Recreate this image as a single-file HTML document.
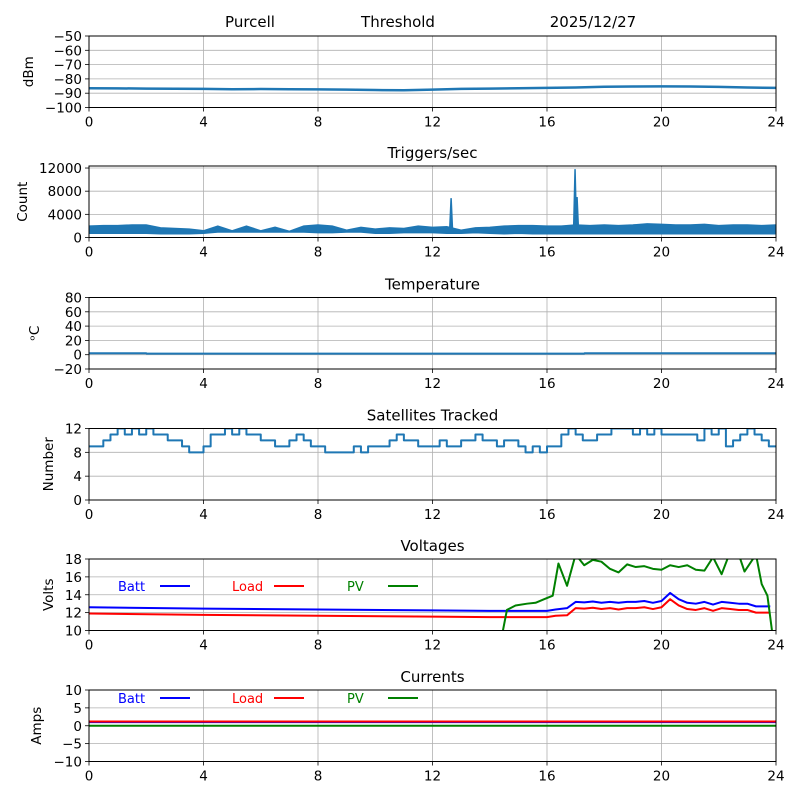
<!DOCTYPE html>
<html><head><meta charset="utf-8"><style>
body{margin:0;background:#fff}
svg{display:block;font-family:"DejaVu Sans","Liberation Sans",sans-serif}
</style></head><body>
<svg id="c" width="800" height="800" viewBox="0 0 800 800">
<text x="250" y="27" font-size="15" text-anchor="middle">Purcell</text>
<text x="398" y="27" font-size="15" text-anchor="middle">Threshold</text>
<text x="593" y="27" font-size="15" text-anchor="middle">2025/12/27</text>
</svg>
<script>
const xTicks=[0,4,8,12,16,20,24];
const sigHours=[0,1,2,3,4,5,6,7,8,9,10,11,12,13,14,15,16,17,18,19,20,21,22,23,24];
const sigVals=[-86.5,-86.6,-86.8,-86.9,-87,-87.2,-87.1,-87.2,-87.3,-87.5,-87.8,-87.9,-87.5,-87,-86.8,-86.5,-86.3,-86,-85.5,-85.3,-85.2,-85.3,-85.6,-86,-86.3];
const trigLow=[700,700,700,700,700,600,600,600,700,900,900,900,900,900,900,900,800,800,900,900,700,700,800,800,800,700,700,800,700,600,700,600,600,600,600,600,600,600,600,600,600,600,600,600,600,600,600,600,600];
const trigHigh=[2000,2100,2100,2200,2200,1700,1600,1500,1200,2000,1200,2000,1200,1800,1100,2000,2200,2000,1300,1800,1500,1700,1600,2000,1800,1900,1300,1700,1800,2000,2100,2100,2000,2000,2200,2100,2200,2100,2200,2400,2300,2200,2200,2300,2100,2200,2200,2100,2200];
const spikeHours=[12.65,16.98,17.05];
const spikeVals=[6800,11800,7000];
const tempHours=[0,2,2.01,17.3,17.31,24];
const tempVals=[2,2,1.5,1.5,2,2];
const satVals=[9,9,10,11,12,11,12,11,12,11,11,10,10,9,8,8,9,11,11,12,11,12,11,11,10,10,9,9,10,11,10,9,9,8,8,8,8,9,8,9,9,9,10,11,10,10,9,9,9,10,9,9,10,10,11,10,10,9,10,10,9,8,9,8,9,9,11,12,11,10,10,11,11,12,12,12,11,12,11,12,11,11,11,11,11,10,12,11,12,9,10,11,12,11,10,9,9];
const battVHours=[0,4,8,12,14,16,16.3,16.7,17,17.3,17.6,17.9,18.2,18.5,18.8,19.1,19.4,19.7,20,20.3,20.6,20.9,21.2,21.5,21.8,22.1,22.4,22.7,23,23.3,23.8];
const battV=[12.6,12.45,12.35,12.25,12.2,12.2,12.35,12.5,13.2,13.15,13.25,13.1,13.2,13.1,13.2,13.2,13.3,13.1,13.3,14.2,13.5,13.1,13.0,13.2,12.9,13.2,13.1,13.0,13.0,12.7,12.7];
const loadV=[11.9,11.75,11.65,11.55,11.5,11.5,11.65,11.7,12.5,12.45,12.55,12.4,12.5,12.35,12.5,12.5,12.6,12.4,12.6,13.5,12.8,12.4,12.3,12.5,12.2,12.5,12.4,12.3,12.3,12.0,12.0];
const pvHours=[14.4,14.6,14.9,15.3,15.6,15.9,16.2,16.4,16.7,17.0,17.3,17.6,17.9,18.2,18.5,18.8,19.1,19.4,19.7,20.0,20.3,20.6,20.9,21.2,21.5,21.8,22.1,22.4,22.7,22.9,23.3,23.5,23.7,23.9];
const pvV=[9,12.3,12.8,13.0,13.1,13.5,13.9,17.5,15,18.5,17.3,17.9,17.7,16.9,16.5,17.4,17.1,17.2,16.9,16.8,17.3,17.1,17.3,16.8,16.7,18.2,16.3,18.8,18.5,16.6,18.5,15.2,13.9,9];
const curHours=[0,24];
const battI=[1.0,1.0];
const loadI=[1.2,1.2];
const pvI=[0,0];

const NS="http://www.w3.org/2000/svg",svg=document.getElementById('c');
const X0=89,X1=776;
function xs(h){return X0+(h/24)*(X1-X0);}
function el(t,a,p){const e=document.createElementNS(NS,t);for(const k in a)e.setAttribute(k,a[k]);(p||svg).appendChild(e);return e;}
function panel(id,top,ymin,ymax,yTicks,yLabel,title,ylx){
  const H=71.5,bot=top+H;
  const ys=v=>bot-(v-ymin)/(ymax-ymin)*H;
  const g=el('g',{});
  
  
  xTicks.forEach(t=>{const l=el('line',{x1:xs(t),x2:xs(t),y1:top,y2:bot,stroke:'#b0b0b0','stroke-width':0.8},g);
    
    el('line',{x1:xs(t),x2:xs(t),y1:bot,y2:bot+4,stroke:'#000','stroke-width':0.8},g);
    const tx=el('text',{x:xs(t),y:bot+19,'font-size':13.5,'text-anchor':'middle'},g);tx.textContent=t;
    });
  yTicks.forEach(t=>{const y=ys(t);const l=el('line',{x1:X0,x2:X1,y1:y,y2:y,stroke:'#b0b0b0','stroke-width':0.8},g);
    
    el('line',{x1:X0-4,x2:X0,y1:y,y2:y,stroke:'#000','stroke-width':0.8},g);
    const tx=el('text',{x:X0-7,y:y+5,'font-size':13.5,'text-anchor':'end'},g);tx.textContent=String(t).replace('-','\u2212');
    });
  const yl=el('text',{transform:`translate(${ylx},${top+H/2}) rotate(-90)`,'font-size':13.5,'text-anchor':'middle'},g);
  yl.textContent=yLabel;
  if(title){const tt=el('text',{x:432.5,y:top-8,'font-size':15,'text-anchor':'middle'},g);tt.textContent=title;
    }
  const cid='clip'+id;const cp=el('clipPath',{id:cid},g);el('rect',{x:X0,y:top,width:X1-X0,height:H},cp);
  const pg=el('g',{'clip-path':`url(#${cid})`},g);
  const fr=el('rect',{x:X0,y:top,width:X1-X0,height:H,fill:'none',stroke:'#000','stroke-width':1},g);
  
  return {ys,pg,top};
}
function line(p,hours,vals,color,w,name,step){
  let d='';vals.forEach((v,i)=>{const x=xs(hours[i]),y=p.ys(v);
    if(i===0)d+=`M${x},${y}`;else{ if(step)d+=`H${x}V${y}`; else d+=`L${x},${y}`;}});
  const e=el('path',{d,fill:'none',stroke:color,'stroke-width':w,'stroke-linejoin':'round'},p.pg);
  
  
}
function legend(p,y){
  [['Batt','blue',118,160],['Load','red',232,274],['PV','green',347,388]].forEach(a=>{
    const t=el('text',{x:a[2],y:y+5,'font-size':13,fill:a[1]});t.textContent=a[0];
    
    el('line',{x1:a[3],x2:a[3]+30,y1:y,y2:y,stroke:a[1],'stroke-width':2});});
}
const even=n=>Array.from({length:n},(_,i)=>i*24/(n-1));
let p=panel('signal',36,-100,-50,[-100,-90,-80,-70,-60,-50],'dBm',null,33);
line(p,sigHours,sigVals,'#1f77b4',2.5,'signal-line');
p=panel('triggers',166,0,12350,[0,4000,8000,12000],'Count','Triggers/sec',27);
{const hs=even(trigLow.length);let d='';
 hs.forEach((h,i)=>{d+=(i?'L':'M')+xs(h)+','+p.ys(trigHigh[i]);});
 for(let i=hs.length-1;i>=0;i--)d+='L'+xs(hs[i])+','+p.ys(trigLow[i]);
 const b=el('path',{d:d+'Z',fill:'#1f77b4',stroke:'#1f77b4','stroke-width':1},p.pg);
 
 
 spikeHours.forEach((h,i)=>{const s=el('path',{d:`M${xs(h)-1.5},${p.ys(1000)}L${xs(h)},${p.ys(spikeVals[i])}L${xs(h)+1.5},${p.ys(1000)}Z`,fill:'#1f77b4',stroke:'#1f77b4','stroke-width':1.5},p.pg);
  
  });}
p=panel('temperature',297.5,-20,80,[-20,0,20,40,60,80],'\u1d52C','Temperature',39);
line(p,tempHours,tempVals,'#1f77b4',2,'temperature-line');
p=panel('satellites',428.5,0,12,[0,4,8,12],'Number','Satellites Tracked',53);
line(p,even(satVals.length),satVals,'#1f77b4',2,'satellites-line',true);
p=panel('voltages',559,10,18,[10,12,14,16,18],'Volts','Voltages',53);
line(p,battVHours,battV,'blue',2,'batt-voltage-line');
line(p,battVHours,loadV,'red',2,'load-voltage-line');
line(p,pvHours,pvV,'green',2,'pv-voltage-line');
legend(p,586);
p=panel('currents',690,-10,10,[-10,-5,0,5,10],'Amps','Currents',41);
line(p,curHours,battI,'blue',2,'batt-current-line');
line(p,curHours,loadI,'red',2,'load-current-line');
line(p,curHours,pvI,'green',2,'pv-current-line');
legend(p,698);
</script>
</body></html>
